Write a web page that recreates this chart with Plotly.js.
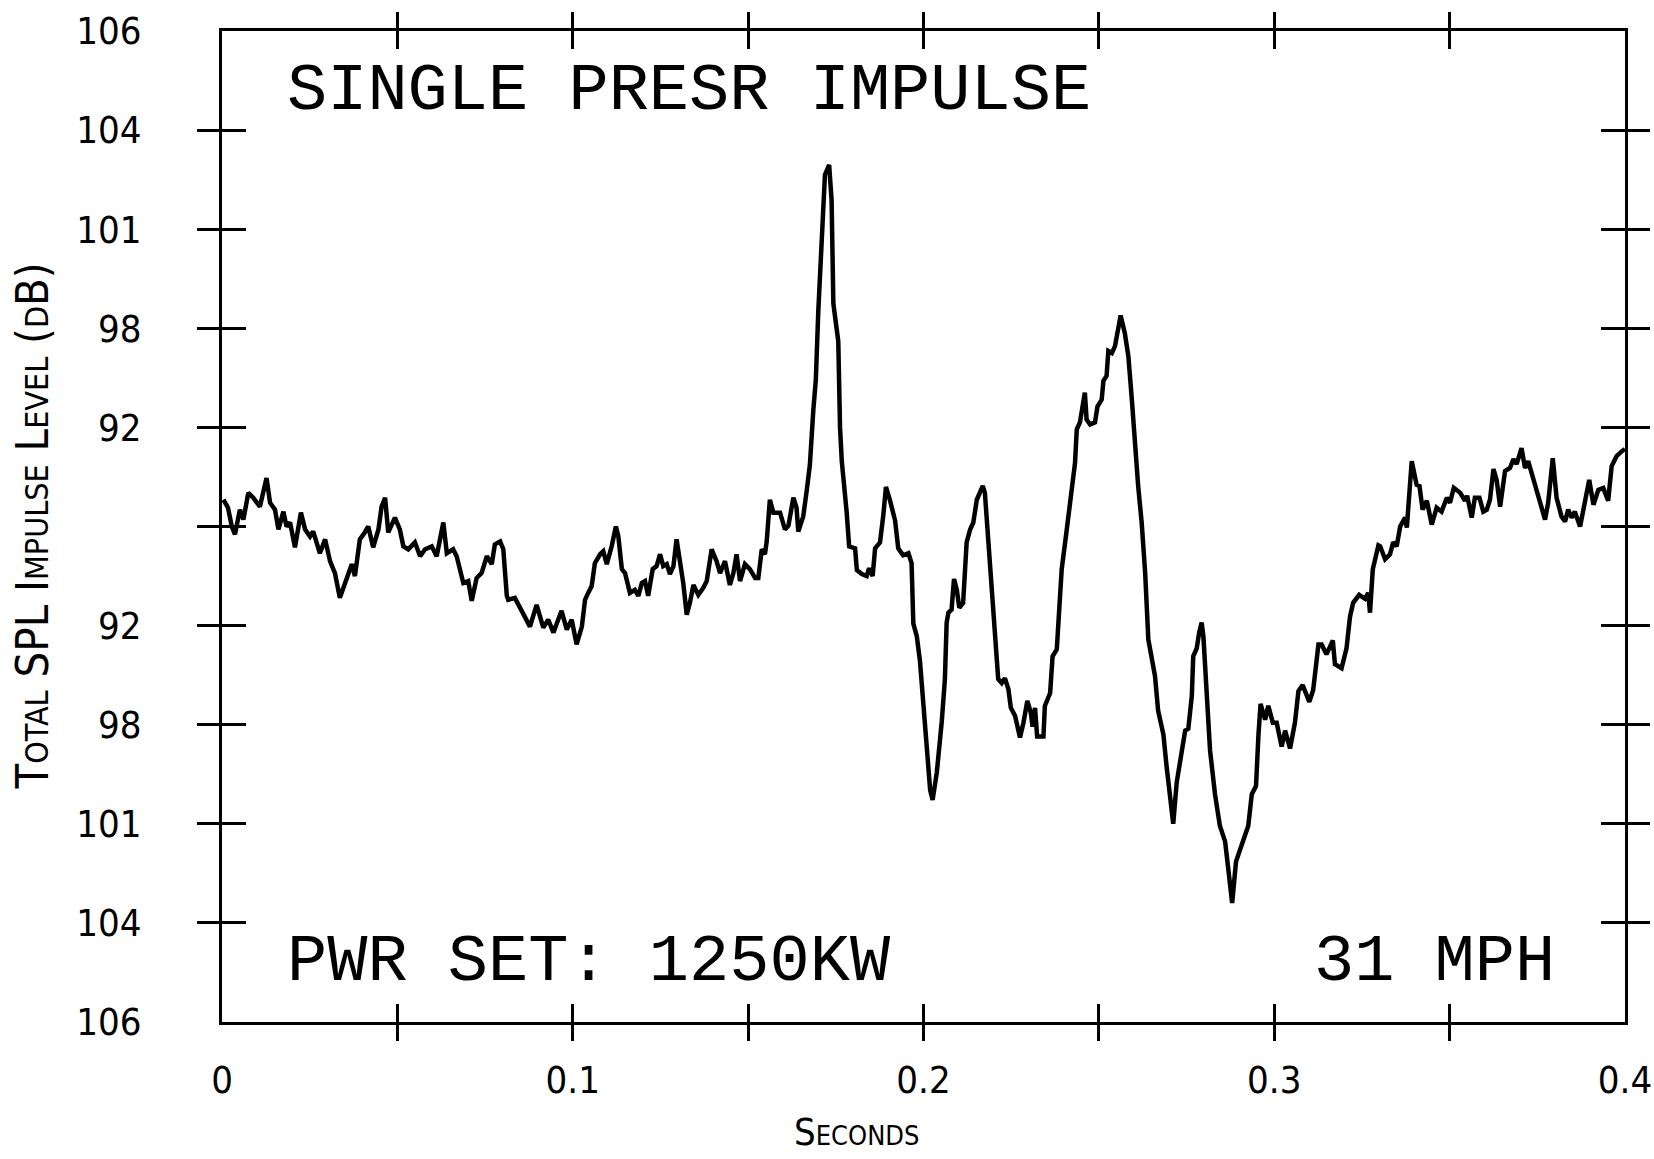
<!DOCTYPE html>
<html>
<head>
<meta charset="utf-8">
<script src="https://cdn.plot.ly/plotly-3.0.1.min.js"></script>
<style>html,body{margin:0;padding:0;background:#fff;}#chart{width:1654px;height:1159px;}</style>
</head>
<body>
<div id="chart"></div>
<script>
// Time (seconds)
const seconds = [
0.0004,0.0017,0.0028,0.0037,0.0051,0.0061,0.0075,0.0089,0.0108,0.0127,0.0137,0.0151,0.0161,0.0175,0.0184,0.0194,0.0208,0.0225,0.0237,0.0251,
0.0260,0.0279,0.0294,0.0308,0.0322,0.0336,0.0351,0.0370,0.0379,0.0393,0.0407,0.0417,0.0431,0.0446,0.0455,0.0465,0.0474,0.0493,0.0507,0.0517,
0.0531,0.0550,0.0565,0.0579,0.0598,0.0612,0.0631,0.0641,0.0659,0.0669,0.0688,0.0702,0.0712,0.0726,0.0740,0.0755,0.0769,0.0778,0.0793,0.0802,
0.0812,0.0816,0.0835,0.0854,0.0878,0.0897,0.0916,0.0930,0.0945,0.0968,0.0983,0.0997,0.1011,
0.1026,0.1035,0.1044,0.1054,0.1063,0.1078,0.1087,0.1097,0.1111,0.1123,0.1130,0.1140,0.1149,0.1163,0.1177,0.1187,0.1197,0.1206,0.1215,0.1228,
0.1239,0.1249,0.1258,0.1268,0.1277,0.1287,0.1296,0.1306,0.1315,0.1325,0.1334,0.1344,0.1358,0.1372,0.1382,0.1396,0.1410,0.1420,0.1434,0.1448,
0.1458,0.1467,0.1477,0.1491,0.1505,0.1520,0.1529,0.1539,0.1548,0.1553,0.1562,0.1572,0.1586,
0.1591,0.1605,0.1615,0.1629,0.1638,0.1643,0.1657,0.1667,0.1676,0.1686,0.1693,0.1700,0.1710,0.1719,0.1731,0.1738,0.1743,0.1757,0.1762,0.1767,
0.1781,0.1788,0.1805,0.1810,0.1824,0.1838,0.1845,0.1855,0.1862,0.1876,0.1885,0.1893,0.1904,0.1919,0.1928,0.1942,0.1957,0.1966,0.1971,0.1981,
0.1990,0.2000,0.2009,0.2019,0.2026,0.2038,0.2052,0.2061,
0.2066,0.2071,0.2080,0.2087,0.2095,0.2102,0.2113,0.2123,0.2133,0.2142,0.2152,0.2161,0.2169,0.2175,0.2185,0.2194,0.2204,0.2213,0.2223,0.2232,
0.2242,0.2249,0.2261,0.2275,0.2285,0.2296,0.2306,0.2311,0.2318,0.2324,0.2342,0.2346,0.2361,0.2368,0.2380,0.2387,0.2394,0.2406,0.2418,0.2432,
0.2437,0.2446,0.2460,0.2465,0.2475,0.2489,0.2496,0.2508,0.2513,0.2522,0.2527,0.2537,0.2546,0.2562,0.2574,0.2584,0.2594,0.2603,0.2612,0.2622,
0.2632,0.2641,
0.2660,0.2669,0.2684,0.2693,0.2703,0.2712,0.2722,0.2736,0.2746,0.2755,0.2765,0.2769,0.2779,0.2786,0.2793,0.2798,0.2805,0.2817,0.2831,0.2845,
0.2860,0.2872,0.2880,0.2891,0.2902,0.2917,0.2926,0.2936,0.2948,0.2955,0.2961,0.2974,0.2983,0.2996,0.3007,0.3021,0.3031,0.3045,0.3059,0.3069,
0.3081,0.3100,0.3111,0.3126,0.3135,0.3149,0.3167,0.3173,0.3192,0.3206,0.3216,0.3225,0.3242,0.3259,0.3268,0.3273,0.3281,0.3297,
0.3302,0.3316,0.3330,0.3339,0.3349,0.3359,0.3373,0.3378,0.3392,0.3406,0.3414,0.3423,0.3435,0.3449,0.3463,0.3477,0.3492,0.3501,0.3512,0.3530,
0.3544,0.3550,0.3563,0.3572,0.3585,0.3596,0.3606,0.3615,0.3625,0.3634,0.3644,0.3658,0.3672,0.3682,0.3691,0.3705,0.3715,0.3724,0.3739,0.3753,
0.3772,0.3781,0.3794,0.3805,0.3819,0.3829,0.3838,0.3848,0.3857,0.3872,0.3886,0.3898,0.3910,0.3924,0.3938,0.3952,0.3962,0.3976,0.3991,0.4000
];
// Impulse level, in chart units (tick positions -5..5)
const level = [
0.27,0.19,0.00,-0.08,0.17,0.07,0.34,0.29,0.20,0.49,0.24,0.17,-0.03,0.15,0.00,0.04,-0.21,0.14,-0.03,-0.10,
-0.05,-0.27,-0.13,-0.35,-0.47,-0.72,-0.57,-0.38,-0.50,-0.13,-0.06,0.00,-0.21,-0.03,0.20,0.29,-0.06,0.09,-0.03,-0.20,
-0.23,-0.16,-0.30,-0.23,-0.20,-0.30,0.04,-0.27,-0.23,-0.30,-0.57,-0.55,-0.75,-0.52,-0.47,-0.30,-0.38,-0.18,-0.15,-0.23,
-0.70,-0.74,-0.72,-0.84,-1.01,-0.79,-1.02,-0.94,-1.07,-0.85,-1.04,-0.94,-1.19,
-1.01,-0.74,-0.67,-0.60,-0.37,-0.28,-0.25,-0.38,-0.20,0.00,-0.10,-0.43,-0.47,-0.67,-0.64,-0.70,-0.57,-0.55,-0.70,-0.43,
-0.40,-0.28,-0.40,-0.38,-0.48,-0.40,-0.13,-0.33,-0.57,-0.89,-0.77,-0.59,-0.69,-0.62,-0.55,-0.23,-0.35,-0.47,-0.35,-0.59,
-0.47,-0.28,-0.55,-0.38,-0.43,-0.52,-0.52,-0.23,-0.28,-0.15,0.27,0.14,0.14,
0.14,-0.03,0.01,0.29,0.19,-0.05,0.10,0.36,0.62,1.18,1.48,2.17,2.81,3.55,3.65,3.29,2.25,1.87,1.00,0.66,
0.14,-0.20,-0.22,-0.44,-0.48,-0.50,-0.42,-0.50,-0.22,-0.16,0.10,0.40,0.27,0.06,-0.22,-0.29,-0.27,-0.37,-0.98,-1.11,
-1.36,-1.84,-2.31,-2.66,-2.76,-2.48,-1.97,-1.54,
-0.97,-0.87,-0.84,-0.53,-0.64,-0.82,-0.77,-0.16,-0.03,0.04,0.27,0.34,0.41,0.34,-0.13,-0.64,-1.01,-1.54,-1.58,-1.53,
-1.64,-1.83,-1.91,-2.13,-1.98,-1.76,-1.88,-2.02,-1.83,-2.12,-2.12,-1.81,-1.68,-1.31,-1.24,-0.80,-0.43,-0.10,0.27,0.64,
0.98,1.05,1.35,1.08,1.03,1.05,1.21,1.28,1.47,1.52,1.77,1.75,1.82,2.13,1.95,1.72,1.28,0.78,0.41,0.04,
-0.47,-1.14,
-1.51,-1.86,-2.10,-2.42,-2.74,-3.00,-2.58,-2.26,-2.06,-2.04,-1.71,-1.31,-1.23,-1.07,-0.97,-1.11,-1.55,-2.26,-2.70,-3.02,
-3.18,-3.62,-3.80,-3.38,-3.26,-3.10,-3.02,-2.70,-2.62,-2.10,-1.79,-1.95,-1.81,-1.98,-1.98,-2.22,-2.06,-2.24,-1.98,-1.66,
-1.60,-1.77,-1.65,-1.19,-1.19,-1.29,-1.15,-1.39,-1.43,-1.23,-0.91,-0.77,-0.69,-0.73,-0.67,-0.87,-0.43,-0.19,
-0.20,-0.33,-0.28,-0.16,-0.20,0.00,0.09,-0.01,0.66,0.42,0.41,0.17,0.26,0.02,0.19,0.15,0.29,0.24,0.39,0.34,
0.26,0.31,0.09,0.29,0.29,0.15,0.17,0.27,0.58,0.47,0.20,0.56,0.59,0.68,0.63,0.79,0.59,0.66,0.47,0.32,
0.07,0.24,0.69,0.29,0.10,0.05,0.17,0.09,0.15,0.00,0.26,0.47,0.22,0.37,0.39,0.26,0.61,0.71,0.76,0.78
];

// Axis labels
const xLabelVals = [0, 0.1, 0.2, 0.3, 0.4];
const xLabelText = ['0', '0.1', '0.2', '0.3', '0.4'];
const xTickVals = [0.05, 0.1, 0.15, 0.2, 0.25, 0.3, 0.35];
const yLabelVals = [5, 4, 3, 2, 1, 0, -1, -2, -3, -4, -5];
const yLabelText = ['106', '104', '101', '98', '92', '', '92', '98', '101', '104', '106'];
const yTickVals = [4, 3, 2, 1, 0, -1, -2, -3, -4];

const titleText = 'SINGLE PRESR IMPULSE';
const powerText = 'PWR SET: 1250KW';
const speedText = '31 MPH';
const yTitle = 'Total SPL Impulse Level (dB)';
const xTitle = 'Seconds';

const condFamily = '"DejaVu Sans Condensed", "DejaVu Sans", sans-serif';
const numFont = {family: condFamily, size: 38, color: '#000'};
const monoFont = {family: '"Liberation Mono", "DejaVu Sans Mono", monospace', size: 67, color: '#000'};
const XR = [0, 0.4], YR = [-5, 5];

const traces = [
  {type: 'scatter', mode: 'lines', x: seconds, y: level, xaxis: 'x', yaxis: 'y',
   line: {color: '#000', width: 4.5}, showlegend: false, hoverinfo: 'skip'},
  {type: 'scatter', mode: 'lines', x: [], y: [], xaxis: 'x2', yaxis: 'y', showlegend: false, hoverinfo: 'skip'},
  {type: 'scatter', mode: 'lines', x: [], y: [], xaxis: 'x3', yaxis: 'y', showlegend: false, hoverinfo: 'skip'},
  {type: 'scatter', mode: 'lines', x: [], y: [], xaxis: 'x', yaxis: 'y2', showlegend: false, hoverinfo: 'skip'},
  {type: 'scatter', mode: 'lines', x: [], y: [], xaxis: 'x', yaxis: 'y3', showlegend: false, hoverinfo: 'skip'}
];

const tickAxisX = (dir) => ({overlaying: 'x', anchor: 'y', range: XR, tickmode: 'array', tickvals: xTickVals,
  ticks: dir, ticklen: 18, tickwidth: 3, tickcolor: '#000', mirror: 'allticks', showline: false,
  showticklabels: false, showgrid: false, zeroline: false, fixedrange: true});
const tickAxisY = (dir) => ({overlaying: 'y', anchor: 'x', range: YR, tickmode: 'array', tickvals: yTickVals,
  ticks: dir, ticklen: 24, tickwidth: 3, tickcolor: '#000', mirror: 'allticks', showline: false,
  showticklabels: false, showgrid: false, zeroline: false, fixedrange: true});

const layout = {
  width: 1654, height: 1159,
  margin: {l: 222, r: 29, t: 31, b: 137},
  paper_bgcolor: '#fff', plot_bgcolor: '#fff',
  showlegend: false,
  xaxis: {range: XR, tickmode: 'array', tickvals: xLabelVals, ticktext: xLabelText, ticks: '',
    showline: true, linewidth: 3, linecolor: '#000', mirror: true, showgrid: false, zeroline: false,
    tickfont: numFont, ticklabelstandoff: 22, fixedrange: true},
  yaxis: {range: YR, tickmode: 'array', tickvals: yLabelVals, ticktext: yLabelText, ticks: '',
    showline: true, linewidth: 3, linecolor: '#000', mirror: true, showgrid: false, zeroline: false,
    tickfont: numFont, ticklabelstandoff: 70, fixedrange: true},
  xaxis2: tickAxisX('outside'),
  xaxis3: tickAxisX('inside'),
  yaxis2: tickAxisY('outside'),
  yaxis3: tickAxisY('inside'),
  annotations: [
    {text: titleText, xref: 'x', yref: 'y', x: 0.018, y: 4.39, xanchor: 'left', yanchor: 'middle', showarrow: false, font: monoFont},
    {text: powerText, xref: 'x', yref: 'y', x: 0.018, y: -4.39, xanchor: 'left', yanchor: 'middle', showarrow: false, font: monoFont},
    {text: speedText, xref: 'x', yref: 'y', x: 0.3805, y: -4.39, xanchor: 'right', yanchor: 'middle', showarrow: false, font: monoFont},
    {text: yTitle, xref: 'paper', yref: 'paper', x: -0.1354, y: 0.5, xanchor: 'center', yanchor: 'middle', textangle: -90,
     showarrow: false, font: {family: condFamily, size: 45, color: '#000', variant: 'small-caps'}},
    {text: xTitle, xref: 'paper', yref: 'paper', x: 0.4526, y: -0.111, xanchor: 'center', yanchor: 'middle',
     showarrow: false, font: {family: condFamily, size: 38, color: '#000', variant: 'small-caps'}}
  ]
};

Plotly.newPlot('chart', traces, layout, {staticPlot: true, displayModeBar: false});
</script>
</body>
</html>
